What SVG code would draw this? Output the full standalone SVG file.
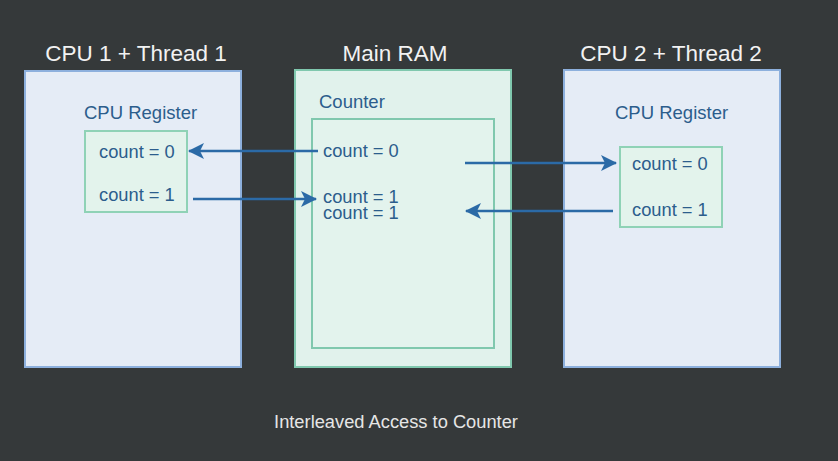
<svg xmlns="http://www.w3.org/2000/svg" width="838" height="461" viewBox="0 0 838 461">
<defs>
<style>
.title{font-family:"Liberation Sans",Arial,sans-serif;font-size:22.5px;fill:#f2f2f2}
.lbl{font-family:"Liberation Sans",Arial,sans-serif;font-size:18.5px;fill:#2c5d8c}
.val{font-family:"Liberation Sans",Arial,sans-serif;font-size:18.3px;fill:#2c5d8c}
.cpu{fill:#e5ecf6;stroke:#8db0dd;stroke-width:2}
.ram{fill:#e1f2ec;stroke:#80c8ae;stroke-width:2}
.reg{fill:#e3f3ec;stroke:#8fd2b6;stroke-width:2}
.inner{fill:#e3f3ed;stroke:#80c8ae;stroke-width:2}
.conn{stroke:#2b6aa6;stroke-width:2.4;fill:none}
.cap{font-family:"Liberation Sans",Arial,sans-serif;font-size:18.3px;fill:#e6e6e6}
</style>
<marker id="ah" viewBox="0 0 16 16" refX="15" refY="8" markerWidth="16" markerHeight="16" markerUnits="userSpaceOnUse" orient="auto">
<path d="M0,0 L16,8 L0,16 L4,8 Z" fill="#2b6aa6"/>
</marker>
</defs>
<rect width="838" height="461" fill="#35393a"/>
<g id="cpu1">
<text class="title" x="136" y="61" text-anchor="middle">CPU 1 + Thread 1</text>
<rect class="cpu" x="25" y="71" width="216" height="296"/>
<text class="lbl" x="84" y="119">CPU Register</text>
</g>
<g id="reg1">
<rect class="reg" x="85" y="131" width="102" height="81"/>
<text class="val" x="99" y="158">count = 0</text>
<text class="val" x="99" y="201">count = 1</text>
</g>
<g id="ram">
<text class="title" x="395" y="61" text-anchor="middle">Main RAM</text>
<rect class="ram" x="295" y="70" width="216" height="297"/>
<text class="lbl" x="319" y="108">Counter</text>
</g>
<g id="counter">
<rect class="inner" x="312" y="119" width="182" height="229"/>
<text class="val" x="323" y="157">count = 0</text>
<text class="val" x="323" y="203">count = 1</text>
<text class="val" x="323" y="219">count = 1</text>
</g>
<g id="cpu2">
<text class="title" x="671" y="61" text-anchor="middle">CPU 2 + Thread 2</text>
<rect class="cpu" x="564" y="70" width="216" height="297"/>
<text class="lbl" x="615" y="119">CPU Register</text>
</g>
<g id="reg2">
<rect class="reg" x="620" y="147" width="102" height="80"/>
<text class="val" x="632" y="170">count = 0</text>
<text class="val" x="632" y="216">count = 1</text>
</g>
<g id="connectors">
<line class="conn" x1="318" y1="151" x2="189" y2="151" marker-end="url(#ah)"/>
<line class="conn" x1="193" y1="199" x2="316" y2="199" marker-end="url(#ah)"/>
<line class="conn" x1="465" y1="163" x2="616" y2="163" marker-end="url(#ah)"/>
<line class="conn" x1="613" y1="211" x2="466" y2="211" marker-end="url(#ah)"/>
</g>
<text class="cap" x="396" y="428" text-anchor="middle">Interleaved Access to Counter</text>
</svg>
